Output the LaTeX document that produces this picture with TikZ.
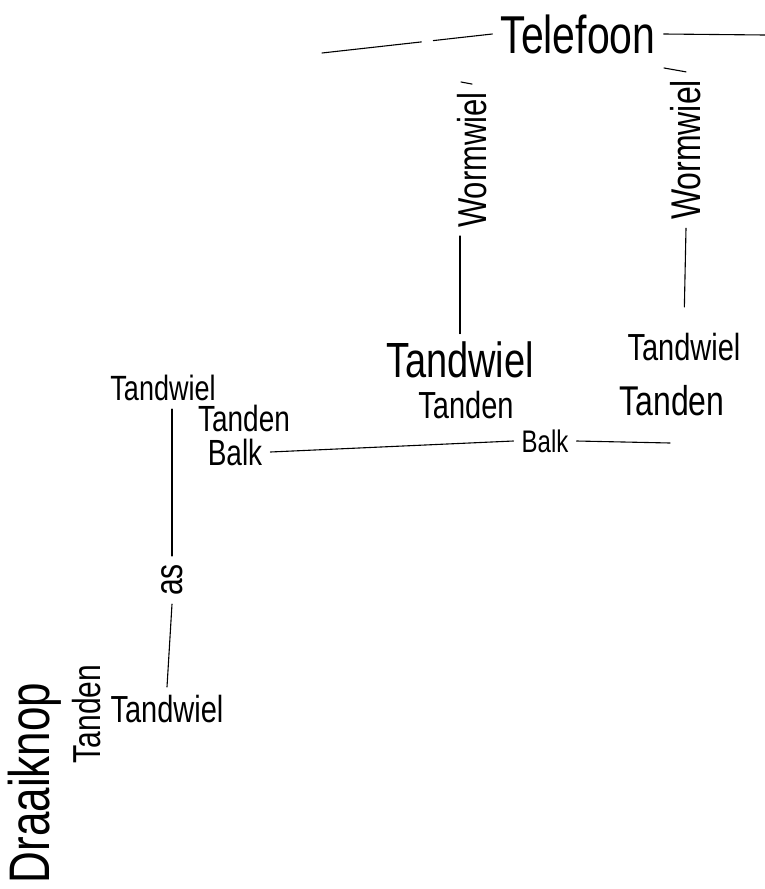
\documentclass[tikz,border=0pt]{standalone}
\usepackage{fontspec}
\setmainfont{Liberation Sans}
\newcommand\hw[1]{\scalebox{1}[1.3]{#1}}
\tikzset{
  word/.style={inner sep=8pt, font=\fontsize{#1}{#1}\selectfont},
  upword/.style={word=#1, rotate=90},
  link/.style={line width=1.1pt, line cap=round},
}
\begin{document}
\begin{tikzpicture}[x=1pt,y=-1pt]
    \useasboundingbox (0,0) rectangle (765,889);

    % words, placed at pixel positions of the sketch
    \node[word=41] (tel) at (578,34) {\hw{Telefoon}};
    \node[upword=31] (wormL) at (472,160) {\hw{Wormwiel}};
    \node[upword=32] (wormR) at (686,150) {\hw{Wormwiel}};
    \node[word=38] (tandM) at (460,360) {\hw{Tandwiel}};
    \node[word=29] (tanM) at (466,405) {\hw{Tanden}};
    \node[word=29] (tandR) at (684,347) {\hw{Tandwiel}};
    \node[word=32] (tanR) at (672,401) {\hw{Tanden}};
    \node[word=27] (tandL) at (163,388) {\hw{Tandwiel}};
    \node[word=28] (tanL) at (244,418) {\hw{Tanden}};
    \node[word=28] (balkL) at (235,452) {\hw{Balk}};
    \node[word=24] (balkM) at (545,441) {\hw{Balk}};
    \node[upword=30] (asN) at (172,580) {\hw{as}};
    \node[word=29] (tandB) at (167,709) {\hw{Tandwiel}};
    \node[upword=30] (tanB) at (87,714) {\hw{Tanden}};
    \node[upword=44] (draai) at (35,783) {\hw{Draaiknop}};

    \coordinate (telL) at (322,53);
    \coordinate (telR) at (765,35);
    \coordinate (wLtop) at (461,82);
    \coordinate (wRtop) at (664,68);
    \coordinate (balkR) at (670,443);

    % lines between the words
    \draw[link, dash pattern=on 100pt off 12pt on 200pt] (telL) -- (tel.west);
    \draw[link] (tel.east) -- (telR);
    \draw[link] (wLtop) -- (wormL.east);
    \draw[link] (wRtop) -- (wormR.east);
    \draw[link] (tandM.north |- wormL.west) -- (tandM.north);
    \draw[link, shorten >=18pt] (wormR.west) -- (tandR.north);
    \draw[link] (balkL.east) -- (balkM.west);
    \draw[link] (balkM.east) -- (balkR);
    \draw[link] (tandL.south -| asN.east) -- (asN.east);
    \draw[link] (asN.west) -- (tandB.north);
  \end{tikzpicture}
\end{document}
